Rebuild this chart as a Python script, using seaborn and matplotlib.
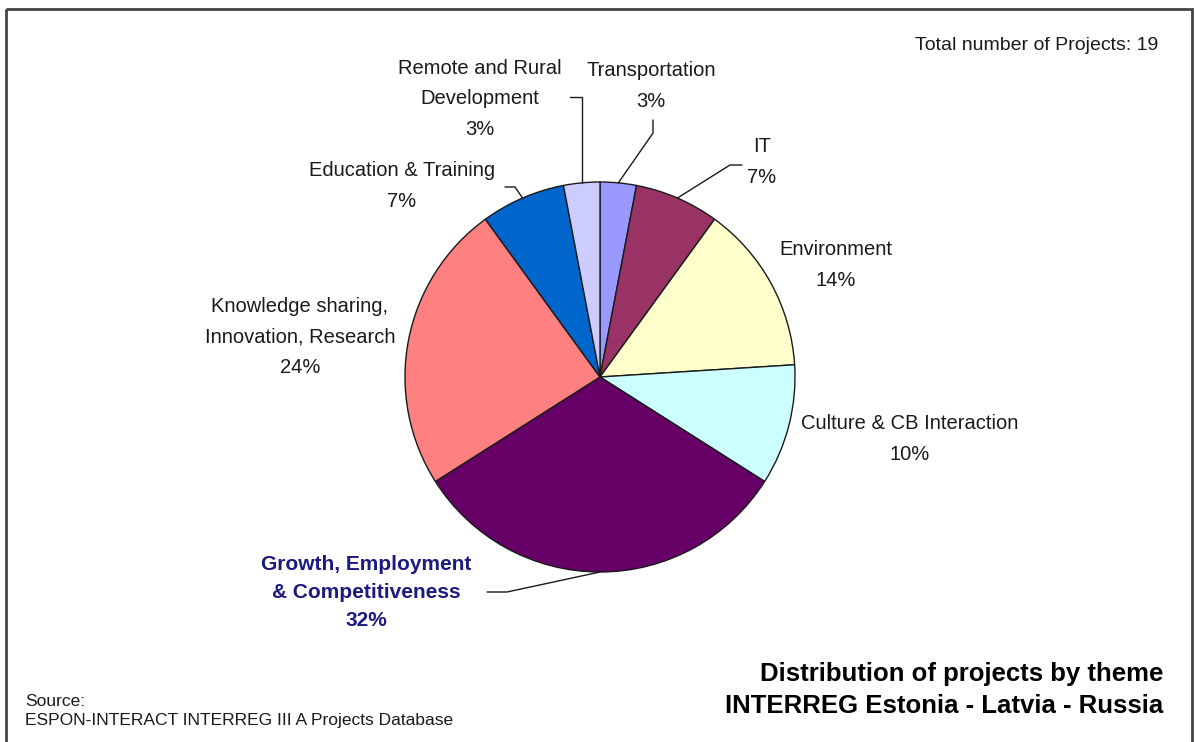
import matplotlib
matplotlib.use("Agg")
import matplotlib.pyplot as plt
import seaborn as sns
import numpy as np
from matplotlib.patches import Rectangle

# ---- data ----
themes = ["Transportation", "IT", "Environment", "Culture & CB Interaction",
          "Growth, Employment\n& Competitiveness", "Knowledge sharing,\nInnovation, Research",
          "Education & Training", "Remote and Rural\nDevelopment"]
shares = [3, 7, 14, 10, 32, 24, 7, 3]
colors = ["#9999FF", "#993366", "#FFFFCC", "#CCFFFF", "#660066", "#FF8080", "#0066CC", "#CCCCFF"]
total_projects = 19
title_lines = ["Distribution of projects by theme", "INTERREG Estonia - Latvia - Russia"]
source_lines = ["Source:", "ESPON-INTERACT INTERREG III A Projects Database"]

sns.set_theme(style="white")
plt.rcParams['font.family'] = ['Liberation Sans', 'DejaVu Sans']

fig = plt.figure(figsize=(11.95, 7.42), dpi=100)
fig.patch.set_facecolor("white")
ax = fig.add_axes([0, 0, 1, 1])
cx, cy, R = 600, 377, 195
wedges, _ = ax.pie(shares, colors=colors, startangle=-90, counterclock=True,
                   center=(cx, cy), radius=R,
                   wedgeprops=dict(edgecolor="#1a1a1a", linewidth=1.0))
ax.set_xlim(0, 1195)
ax.set_ylim(742, 0)
ax.set_aspect('auto')
ax.axis('off')

# mid points on the rim
cum = np.cumsum([0] + shares[:-1]) + np.array(shares) / 2
total = sum(shares)
mids = []
for c in cum:
    th = np.deg2rad(-90 + c / total * 360)
    mids.append((cx + R * np.cos(th), cy + R * np.sin(th)))

# label positions (center of text block) and leader elbows
label_pos = {0: (651, 86), 1: (762, 162), 2: (836, 265), 3: (910, 439),
             4: (366, 592), 5: (300, 337), 6: (402, 186), 7: (480, 99)}
leaders = {0: [(653, 133), (653, 120)],
           1: [(730, 165), (742, 165)],
           4: [(507, 592), (487, 592)],
           6: [(515, 187), (505, 187)],
           7: [None, (570, 97)]}

for i, name in enumerate(themes):
    x, y = label_pos[i]
    txt = f"{name}\n{shares[i]}%"
    if i == 4:
        ax.text(x, y, txt, ha='center', va='center', fontsize=15, fontweight='bold',
                color='#1a1a80', linespacing=1.6)
    else:
        ax.text(x, y, txt, ha='center', va='center', fontsize=14.5, color='#1a1a1a',
                linespacing=1.75)
    if i in leaders:
        mx, my = mids[i]
        pts = [(mx, my)]
        for p in leaders[i]:
            if p is None:
                pts.append((mx, 97))
            else:
                pts.append(p)
        ax.plot([p[0] for p in pts], [p[1] for p in pts], color='#1a1a1a', lw=1.0)

ax.text(1158, 46, f"Total number of Projects: {total_projects}", ha='right', va='center',
        fontsize=14, color='#1a1a1a')
ax.text(1163, 690, "\n".join(title_lines), ha='right', va='center', fontsize=18.5,
        fontweight='bold', color='black', linespacing=1.4)
ax.text(25, 711, "\n".join(source_lines), ha='left', va='center', fontsize=12.5,
        color='#1a1a1a', linespacing=1.4)

ax.add_patch(Rectangle((6, 9), 1186, 740, fill=False, edgecolor='#444444', lw=2))

fig.savefig("out.png", dpi=100, facecolor="white")
